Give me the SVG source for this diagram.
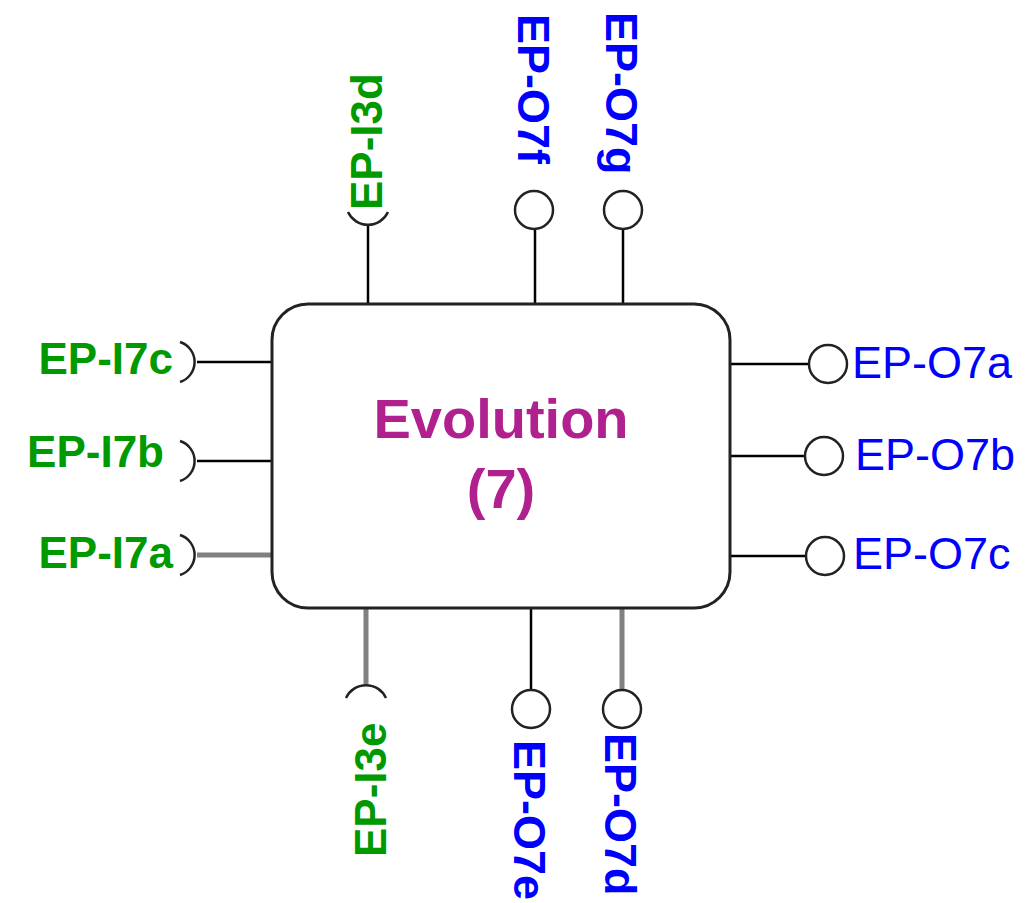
<svg xmlns="http://www.w3.org/2000/svg" width="1033" height="903" viewBox="0 0 1033 903">
<style>
.ln{stroke:#000;stroke-width:2.5;fill:none}
.gl{stroke:#808080;stroke-width:5;fill:none}
.arc{stroke:#222;stroke-width:2.5;fill:none}
.pc{stroke:#222;stroke-width:2.5;fill:#fff}
.g{fill:#009900;font-family:"Liberation Sans",Arial,sans-serif;font-weight:bold;font-size:44px}
.b{fill:#0000FF;font-family:"Liberation Sans",Arial,sans-serif;font-weight:bold;font-size:45px}
.br{fill:#0000FF;font-family:"Liberation Sans",Arial,sans-serif;font-size:45px}
.t{fill:#B0208F;font-family:"Liberation Sans",Arial,sans-serif;font-weight:bold;font-size:56px;text-anchor:middle}
</style>
<g id="connectors">
<line class="ln" x1="197" y1="362" x2="272" y2="362"/>
<line class="ln" x1="197" y1="461" x2="272" y2="461"/>
<line class="gl" x1="197" y1="555" x2="272" y2="555"/>
<line class="ln" x1="730" y1="364" x2="809" y2="364"/>
<line class="ln" x1="730" y1="456" x2="805" y2="456"/>
<line class="ln" x1="730" y1="556" x2="806" y2="556"/>
<line class="ln" x1="368" y1="225" x2="368" y2="304"/>
<line class="ln" x1="535" y1="230" x2="535" y2="304"/>
<line class="ln" x1="623" y1="230" x2="623" y2="304"/>
<line class="gl" x1="366" y1="608" x2="366" y2="684"/>
<line class="ln" x1="531" y1="608" x2="531" y2="689"/>
<line class="gl" x1="622" y1="608" x2="622" y2="689"/>
</g>
<g id="evolution">
<rect x="272" y="304" width="458" height="304" rx="36" ry="36" fill="#fff" stroke="#222" stroke-width="3"/>
<text class="t" x="501" y="438">Evolution</text>
<text class="t" x="501" y="508">(7)</text>
</g>
<g id="ep-i7c"><path class="arc" d="M180,342 A21,21 0 0 1 180,382"/><text class="g" x="173" y="374" text-anchor="end">EP-I7c</text></g>
<g id="ep-i7b"><path class="arc" d="M180,441 A21,21 0 0 1 180,481"/><text class="g" x="164" y="467" text-anchor="end">EP-I7b</text></g>
<g id="ep-i7a"><path class="arc" d="M180,535 A21,21 0 0 1 180,575"/><text class="g" x="173" y="568" text-anchor="end">EP-I7a</text></g>
<g id="ep-o7a"><circle class="pc" cx="828" cy="364" r="19"/><text class="br" x="852" y="378">EP-O7a</text></g>
<g id="ep-o7b"><circle class="pc" cx="824" cy="456" r="19"/><text class="br" x="855" y="470">EP-O7b</text></g>
<g id="ep-o7c"><circle class="pc" cx="825" cy="556" r="19"/><text class="br" x="853" y="569">EP-O7c</text></g>
<g id="ep-i3d"><path class="arc" d="M348,212 A22,22 0 0 0 388,212"/><text class="g" transform="translate(382,210) rotate(-90)">EP-I3d</text></g>
<g id="ep-o7f"><circle class="pc" cx="534" cy="210" r="19"/><text class="b" transform="translate(518,14) rotate(90)">EP-O7f</text></g>
<g id="ep-o7g"><circle class="pc" cx="623" cy="210" r="19"/><text class="b" transform="translate(606,12) rotate(90)">EP-O7g</text></g>
<g id="ep-i3e"><path class="arc" d="M346,698 A22,22 0 0 1 386,698"/><text class="g" transform="translate(386,857) rotate(-90)">EP-I3e</text></g>
<g id="ep-o7e"><circle class="pc" cx="531" cy="709" r="19"/><text class="b" transform="translate(514,740) rotate(90)">EP-O7e</text></g>
<g id="ep-o7d"><circle class="pc" cx="622" cy="709" r="19"/><text class="b" transform="translate(605,733) rotate(90)">EP-O7d</text></g>
</svg>
